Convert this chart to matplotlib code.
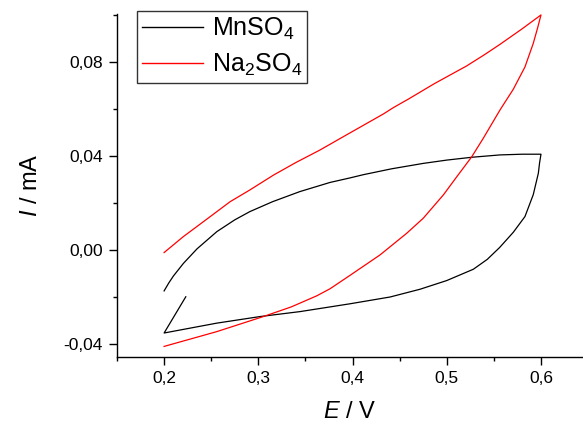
import matplotlib
matplotlib.use("Agg")
import matplotlib.pyplot as plt
from matplotlib.ticker import MultipleLocator, FuncFormatter

plt.rcParams['font.family'] = ['Liberation Sans', 'DejaVu Sans']
plt.rcParams['mathtext.fontset'] = 'custom'
plt.rcParams['mathtext.rm'] = 'Liberation Sans'
plt.rcParams['mathtext.it'] = 'Liberation Sans:italic'

# MnSO4 cycle (forward then reverse)
mn_E = [0.200, 0.205, 0.210, 0.2205, 0.235, 0.256, 0.275, 0.291, 0.315, 0.344, 0.3761, 0.397,
        0.4115, 0.4415, 0.4751, 0.500, 0.5265, 0.5565, 0.580, 0.600,
        0.5985, 0.5972, 0.5918, 0.583, 0.5706, 0.556, 0.543, 0.5282, 0.500, 0.4716, 0.4398,
        0.397, 0.3443, 0.302, 0.256, 0.200, 0.223]
mn_I = [-0.0174, -0.0140, -0.0110, -0.0057, 0.0005, 0.0078, 0.0128, 0.0163, 0.0205, 0.0248, 0.0287, 0.0306,
        0.0320, 0.0345, 0.0368, 0.0382, 0.0394, 0.0404, 0.0407, 0.0407,
        0.0370, 0.0326, 0.0235, 0.0142, 0.0075, 0.0010, -0.0040, -0.0082, -0.0130, -0.0167, -0.0200,
        -0.0229, -0.0262, -0.0283, -0.0311, -0.0353, -0.0199]

# Na2SO4 cycle
na_E = [0.200, 0.2205, 0.245, 0.270, 0.291, 0.316, 0.340, 0.3655, 0.390, 0.4327, 0.4433, 0.460,
        0.486, 0.4964, 0.521, 0.540, 0.5565, 0.580, 0.600,
        0.5965, 0.5918, 0.583, 0.5706, 0.5565, 0.5388, 0.5265, 0.5106, 0.4964, 0.4751, 0.4575,
        0.4292, 0.3973, 0.3761, 0.362, 0.335, 0.3054, 0.256, 0.200]
na_I = [-0.0011, 0.0057, 0.0130, 0.0205, 0.0255, 0.0318, 0.0372, 0.0425, 0.0481, 0.0578, 0.0605, 0.0643,
        0.0705, 0.0728, 0.0782, 0.0830, 0.0874, 0.0940, 0.0999,
        0.0945, 0.0878, 0.0778, 0.0683, 0.0595, 0.0475, 0.0396, 0.0311, 0.0234, 0.0135, 0.0071,
        -0.0021, -0.0108, -0.0165, -0.0195, -0.0242, -0.0283, -0.0347, -0.0410]

labels = [r'MnSO$_4$', r'Na$_2$SO$_4$']

fig = plt.figure(figsize=(5.83, 4.23), dpi=100)
ax = fig.add_axes([117/583, 1-357/423, 1-117/583, (357-14)/423])

ax.plot(mn_E, mn_I, color='black', lw=0.9, label=labels[0])
ax.plot(na_E, na_I, color='#ff0000', lw=0.9, label=labels[1])

ax.set_xlim(0.150, 0.6446)
ax.set_ylim(-0.0455, 0.1003)

for s in ['top', 'right']:
    ax.spines[s].set_visible(False)
for s in ['left', 'bottom']:
    ax.spines[s].set_linewidth(1.0)

ax.xaxis.set_major_locator(MultipleLocator(0.1))
ax.xaxis.set_minor_locator(MultipleLocator(0.05))
ax.yaxis.set_major_locator(MultipleLocator(0.04))
ax.yaxis.set_minor_locator(MultipleLocator(0.02))
ax.xaxis.set_major_formatter(FuncFormatter(lambda v, p: f"{v:.1f}".replace('.', ',')))
ax.yaxis.set_major_formatter(FuncFormatter(lambda v, p: f"{v:.2f}".replace('.', ',').replace('-0,00', '0,00')))
ax.tick_params(which='major', direction='out', length=6, width=1, labelsize=12.5, pad=4)
ax.tick_params(which='minor', direction='out', length=3, width=1)

ax.set_xlabel(r'$E$ / V', fontsize=17, labelpad=11)
ax.set_ylabel(r'$I$ / mA', fontsize=17, labelpad=16)

leg = ax.legend(loc='upper left', bbox_to_anchor=((137-117)/466, (357-11)/343),
                borderaxespad=0, fontsize=18, frameon=True, fancybox=False,
                handlelength=2.45, handletextpad=0.35, borderpad=0.2, labelspacing=0.4)
leg.get_frame().set_edgecolor('black')
leg.get_frame().set_linewidth(1.0)
for l in leg.get_lines():
    l.set_linewidth(1.0)

fig.savefig('out.png', dpi=100)
